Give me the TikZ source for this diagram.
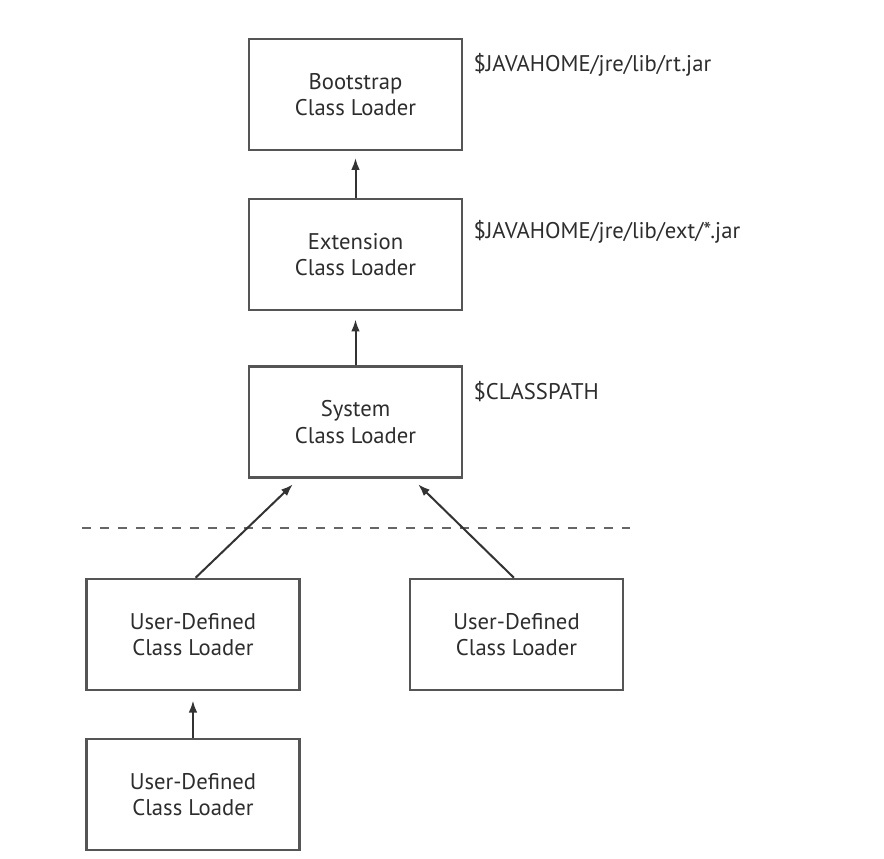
\documentclass[tikz,border=0pt]{standalone}
\usepackage{fontspec}
\setmainfont{PT Sans}
\usepackage{xcolor}
\usetikzlibrary{arrows.meta,positioning,calc}
\definecolor{loadgray}{RGB}{85,85,85}
\definecolor{loadtext}{RGB}{45,45,45}

\begin{document}
\begin{tikzpicture}[x=0.75pt,y=-0.75pt,>={Latex[length=9pt,width=6.5pt]},
  every node/.style={font=\fontsize{17}{20}\selectfont,text=loadtext},
  loader/.style={draw=loadgray,line width=1.9pt,minimum width=159.75pt,minimum height=83.25pt,align=center,inner sep=0pt},
  jarpath/.style={anchor=base west,inner sep=0pt},
  uplink/.style={->,draw=black!80,line width=1.5pt}]
\useasboundingbox (0,0) rectangle (884,858);
\node[loader] (boot) at (355.5,94.5) {Bootstrap\\Class Loader};
\node[loader,below=35pt of boot] (ext) {Extension\\Class Loader};
\node[loader,below=40.5pt of ext] (sys) {System\\Class Loader};
\node[loader,below=74pt of sys,xshift=-121.9pt] (usera) {User-Defined\\Class Loader};
\node[loader,right=81pt of usera] (userb) {User-Defined\\Class Loader};
\node[loader,below=35pt of usera] (userc) {User-Defined\\Class Loader};
\node[jarpath] (bootjar) at ($(boot.north east)+(10,34)$) {\$JAVAHOME/jre/lib/rt.jar};
\node[jarpath] (extjar) at ($(ext.north east)+(10,41)$) {\$JAVAHOME/jre/lib/ext/*.jar};
\node[jarpath] (syscp) at ($(sys.north east)+(10,34)$) {\$CLASSPATH};
\coordinate (cutl) at (82,528);
\coordinate (cutr) at (630,528);
\draw[draw=black!60,line width=1.5pt,dash pattern=on 6.75pt off 6.75pt] (cutl) -- (cutr);
\draw[uplink,shorten >=5pt] (ext) -- (boot);
\draw[uplink,shorten >=6pt] (sys) -- (ext);
\draw[uplink] ([xshift=2pt]usera.north) -- ([xshift=-47pt,yshift=-4pt]sys.south);
\draw[uplink] ([xshift=-2pt]userb.north) -- ([xshift=47pt,yshift=-4pt]sys.south);
\draw[uplink,shorten >=7pt] (userc) -- (usera);
\end{tikzpicture}
\end{document}
